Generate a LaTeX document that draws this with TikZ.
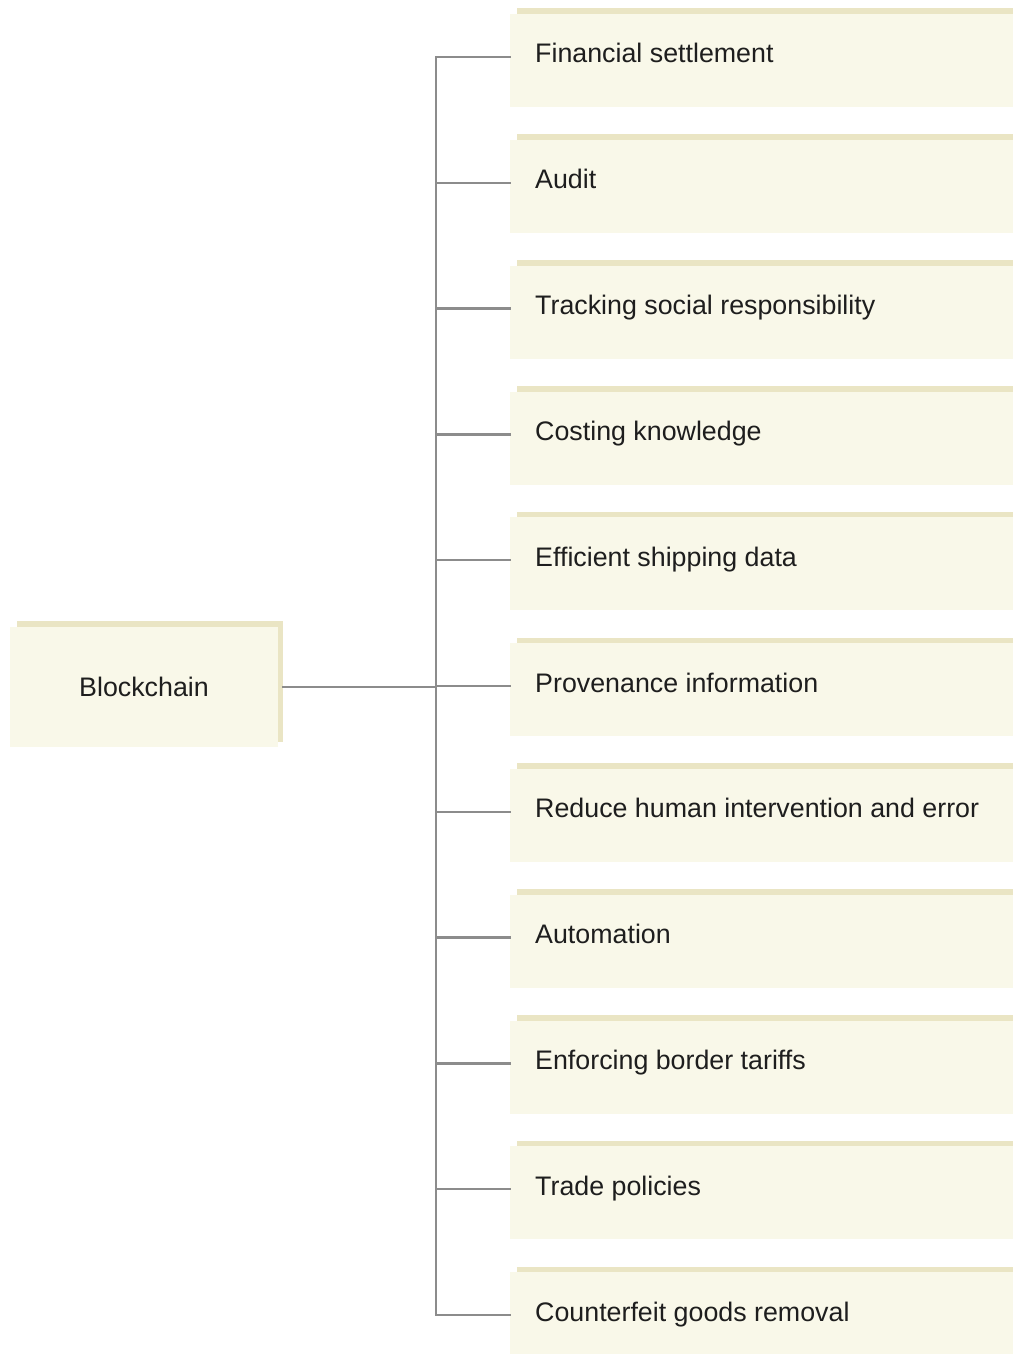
\documentclass[tikz,border=0pt]{standalone}
\usepackage{fontspec}
\setmainfont{Liberation Sans}
\definecolor{boxfront}{HTML}{F9F8E9}
\definecolor{boxback}{HTML}{EAE5C4}
\definecolor{linegray}{HTML}{8C8C8C}
\definecolor{txt}{HTML}{1E1E1E}
\begin{document}
\begin{tikzpicture}[x=1pt,y=-1pt,
  frontbox/.style={fill=boxfront, draw=none, inner sep=0pt, anchor=north west},
  backbox/.style={fill=boxback, draw=none, inner sep=0pt, anchor=north west},
  label/.style={anchor=base west, inner sep=0pt, text=txt, font=\fontsize{26.8}{30}\selectfont},
  conn/.style={draw=linegray, line width=2.4pt, line cap=rect}]
\useasboundingbox (0,0) rectangle (1013,1354);
\fill[white] (0,0) rectangle (1013,1354);
% root
\node[backbox, minimum width=266pt, minimum height=121pt] (rootback) at (17,621) {};
\node[frontbox, minimum width=268pt, minimum height=120pt] (root) at (10,627) {};
\node[anchor=base, inner sep=0pt, text=txt, font=\fontsize{26.8}{30}\selectfont] (roottext) at (144,696) {Blockchain};
% leaves
\foreach \t [count=\n from 0] in {Financial settlement, Audit, Tracking social responsibility, Costing knowledge, Efficient shipping data, Provenance information, Reduce human intervention and error, Automation, Enforcing border tariffs, Trade policies, Counterfeit goods removal}{
  \pgfmathsetmacro{\yy}{125.8*\n}
  \fill[boxback] (517,8.5+\yy) rectangle (1013,100+\yy);
  \node[frontbox, minimum width=503pt, minimum height=93pt] (b\n) at (510,14+\yy) {};
  \node[label] (l\n) at (535,63+\yy) {\t};
  \coordinate (t\n) at (436,57+\yy);
  \draw[conn] (t\n) -- (t\n -| b\n.west);
}
\draw[conn] (t0) -- (t10);
\draw[conn] (rootback.east |- root.east) -- (root.east -| t0);
\end{tikzpicture}
\end{document}
